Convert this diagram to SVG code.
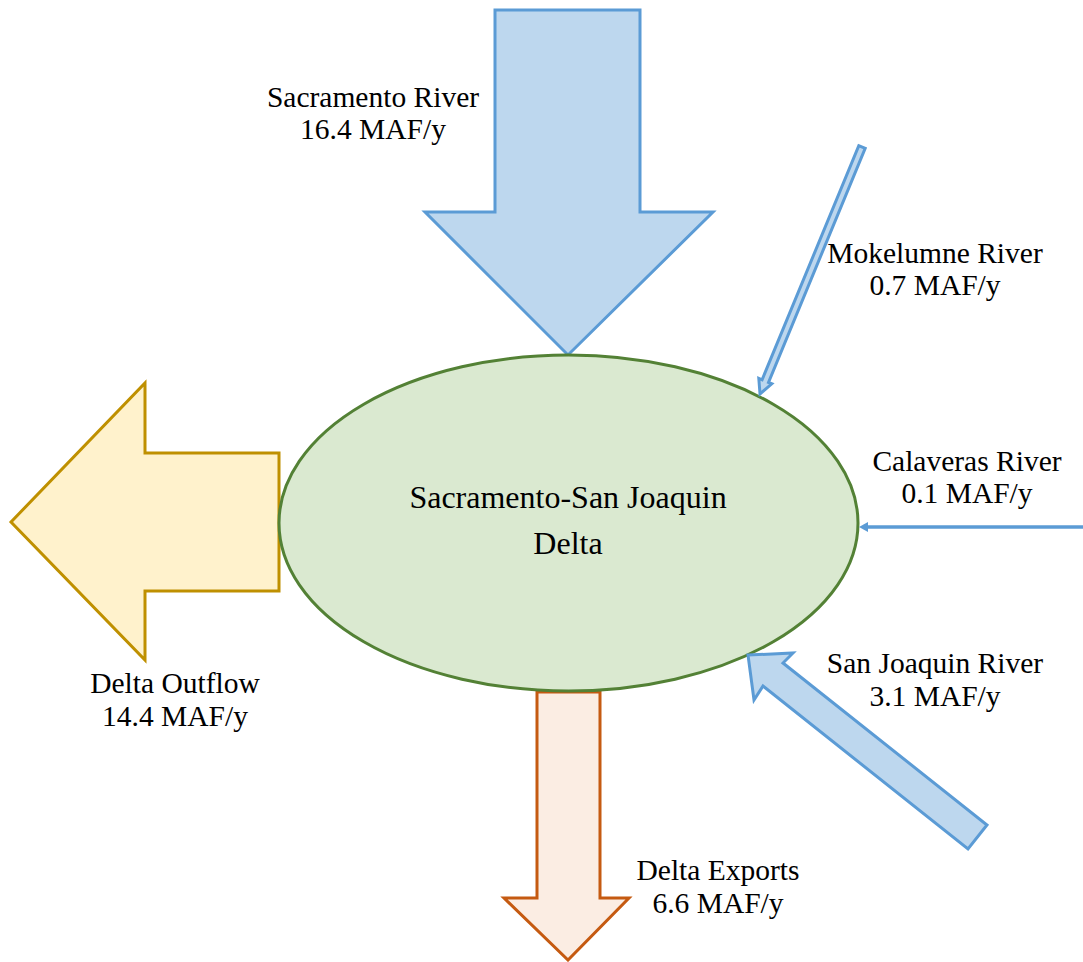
<svg xmlns="http://www.w3.org/2000/svg" width="1083" height="962" viewBox="0 0 1083 962">
<style>
.lbl{font-family:"Liberation Serif","Times New Roman",serif;font-size:29.5px;fill:#000;text-anchor:middle}
.big{font-size:32px}
.blue{fill:#BDD7EE;stroke:#5B9BD5;stroke-width:3;stroke-linejoin:miter}
</style>
<rect width="1083" height="962" fill="#fff"/>
<g id="sacramento">
<polygon class="blue" points="495,10 640,10 640,212 713,212 568,355 425,212 495,212"/>
<text class="lbl" x="373" y="107">Sacramento River</text>
<text class="lbl" x="373" y="139">16.4 MAF/y</text>
</g>
<g id="outflow">
<polygon points="11,522 145,383 145,453 279,453 279,591 145,591 145,660" fill="#FFF2CC" stroke="#BF9000" stroke-width="3"/>
<text class="lbl" x="175" y="693">Delta Outflow</text>
<text class="lbl" x="175" y="726">14.4 MAF/y</text>
</g>
<g id="exports">
<polygon points="537,692 600,692 600,898 629,898 568,960 504,898 537,898" fill="#FBEDE3" stroke="#C55A11" stroke-width="3"/>
<text class="lbl" x="718" y="880">Delta Exports</text>
<text class="lbl" x="718" y="913">6.6 MAF/y</text>
</g>
<g id="delta">
<ellipse cx="568.5" cy="523" rx="289.5" ry="168" fill="#DAE9D0" stroke="#538135" stroke-width="3"/>
<text class="lbl big" x="568" y="508">Sacramento-San Joaquin</text>
<text class="lbl big" x="568" y="554">Delta</text>
</g>
<g id="connectors">
<polygon class="blue" points="760,394 758.8,378.4 762.1,379.8 858.8,145.7 865.2,148.3 768.5,382.4 771.8,383.8"/>
<line x1="1083" y1="527" x2="866" y2="527" stroke="#5B9BD5" stroke-width="3.5"/>
<polygon points="859,527 868,522 868,532" fill="#5B9BD5"/>
<polygon class="blue" points="748,655 793,653 783,663 987,825 968,849 763,686 754,700"/>
</g>
<g id="mokelumne-label">
<text class="lbl" x="935" y="263">Mokelumne River</text>
<text class="lbl" x="935" y="295">0.7 MAF/y</text>
</g>
<g id="calaveras-label">
<text class="lbl" x="967" y="471">Calaveras River</text>
<text class="lbl" x="967" y="503">0.1 MAF/y</text>
</g>
<g id="sanjoaquin-label">
<text class="lbl" x="935" y="673">San Joaquin River</text>
<text class="lbl" x="935" y="706">3.1 MAF/y</text>
</g>
</svg>
